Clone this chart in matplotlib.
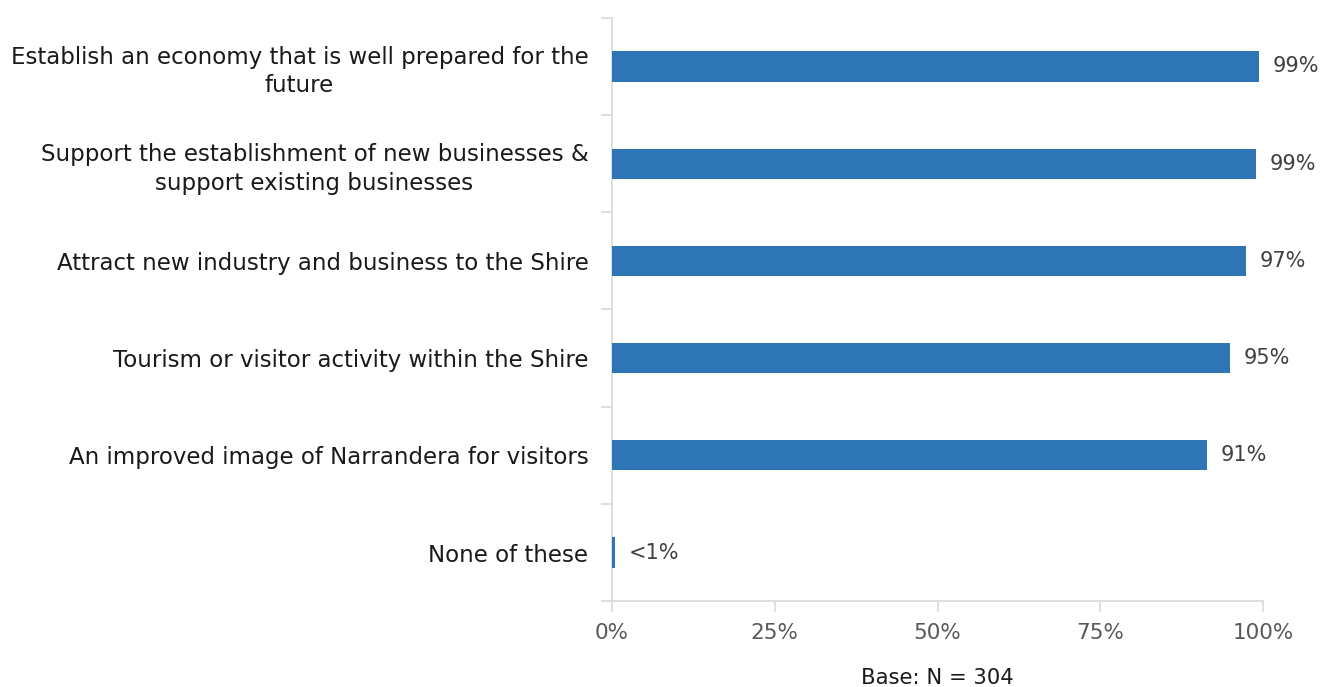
import numpy as np
import matplotlib.pyplot as plt
from matplotlib.ticker import FixedLocator

# Survey results: share of respondents rating each outcome as important
categories = [
    'Establish an economy that is well prepared for the\nfuture',
    'Support the establishment of new businesses &\nsupport existing businesses',
    'Attract new industry and business to the Shire',
    'Tourism or visitor activity within the Shire',
    'An improved image of Narrandera for visitors',
    'None of these',
]
values = [99.4, 98.9, 97.4, 94.9, 91.4, 0.5]
xticks = [0, 25, 50, 75, 100]
base_note = 'Base: N = 304'

bar_color = '#2E75B6'
axis_color = '#D9D9D9'

plt.rcParams['font.family'] = ['DejaVu Sans']

fig = plt.figure(figsize=(13.21, 6.87), dpi=100)
ax = fig.add_axes([0.4633, 0.125, 0.4928, 0.849])

y = np.arange(len(categories))
ax.barh(y, values, height=0.31, color=bar_color, zorder=3)

# value labels to the right of each bar
for yi, v in zip(y, values):
    txt = '<1%' if v < 1 else f'{v:.0f}%'
    ax.annotate(txt, (v, yi), xytext=(10, 0), textcoords='offset points',
                va='center', ha='left', fontsize=15, color='#404040')

ax.set_ylim(len(categories) - 0.5, -0.5)
ax.set_xlim(0, 100)

ax.set_yticks(y)
ax.set_yticklabels(categories, fontsize=16.5, color='#1a1a1a', linespacing=1.3)
for lbl in ax.get_yticklabels():
    lbl.set_multialignment('center')
ax.tick_params(axis='y', which='major', length=0, pad=17)
ax.yaxis.set_minor_locator(FixedLocator(np.arange(-0.5, len(categories), 1)))
ax.tick_params(axis='y', which='minor', length=8, color=axis_color, width=1.2)

ax.set_xticks(xticks)
ax.set_xticklabels([f'{t}%' for t in xticks], fontsize=15.5, color='#595959')
ax.tick_params(axis='x', length=8, color=axis_color, width=1.2, pad=8)

for side in ['top', 'right']:
    ax.spines[side].set_visible(False)
for side in ['left', 'bottom']:
    ax.spines[side].set_color(axis_color)
    ax.spines[side].set_linewidth(1.2)

ax.set_xlabel(base_note, fontsize=15.2, color='#1a1a1a', labelpad=18)

fig.savefig('out.png', dpi=100)
